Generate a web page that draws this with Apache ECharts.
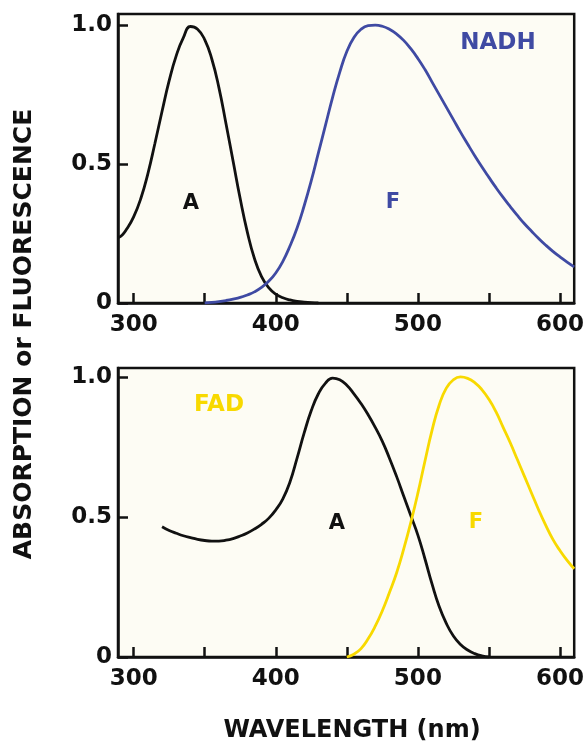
<!DOCTYPE html>
<html>
<head>
<meta charset="utf-8">
<script src="https://cdn.jsdelivr.net/npm/echarts@6/dist/echarts.min.js"></script>
<style>
html,body{margin:0;padding:0;background:#ffffff;}
#chart{width:587px;height:742px;}
</style>
</head>
<body>
<div id="chart"></div>
<script>
// ---- data (wavelength nm, normalised intensity) ----
const nadhAbsWl  = [289,292,295,300,305,310,315,320,325,330,335,340,345,350,355,360,365,370,375,380,385,390,395,400,405,410,415,420,425,430];
const nadhAbsVal = [0.235,0.245,0.265,0.31,0.375,0.465,0.575,0.69,0.80,0.89,0.955,0.995,0.985,0.948,0.878,0.775,0.645,0.51,0.375,0.255,0.16,0.095,0.055,0.032,0.019,0.011,0.006,0.003,0.001,0];

const nadhFluWl  = [350,355,360,365,370,375,380,385,390,395,400,405,410,415,420,425,430,435,440,445,450,455,460,465,470,475,480,485,490,495,500,505,510,515,520,525,530,535,540,545,550,555,560,565,570,575,580,585,590,595,600,605,610];
const nadhFluVal = [0,0.002,0.005,0.009,0.014,0.02,0.029,0.04,0.056,0.078,0.108,0.15,0.205,0.27,0.35,0.44,0.54,0.64,0.74,0.83,0.905,0.955,0.985,0.998,1.0,0.996,0.985,0.968,0.945,0.915,0.88,0.84,0.795,0.75,0.705,0.66,0.615,0.572,0.53,0.49,0.452,0.415,0.38,0.347,0.315,0.285,0.258,0.232,0.208,0.186,0.166,0.147,0.13];

const fadAbsWl  = [320,325,330,335,340,345,350,355,360,365,370,375,380,385,390,395,400,405,410,415,420,425,430,435,440,445,450,455,460,465,470,475,480,485,490,495,500,505,510,515,520,525,530,535,540,545,550];
const fadAbsVal = [0.465,0.452,0.442,0.433,0.426,0.42,0.416,0.414,0.414,0.417,0.423,0.432,0.443,0.457,0.474,0.495,0.525,0.565,0.625,0.71,0.80,0.88,0.94,0.978,0.996,0.99,0.97,0.94,0.905,0.865,0.82,0.77,0.71,0.645,0.575,0.505,0.435,0.35,0.26,0.18,0.12,0.075,0.045,0.025,0.012,0.004,0];

const fadFluWl  = [450,455,460,465,470,475,480,485,490,495,500,505,510,515,520,525,530,535,540,545,550,555,560,565,570,575,580,585,590,595,600,605,610];
const fadFluVal = [0,0.01,0.03,0.065,0.11,0.165,0.23,0.30,0.385,0.48,0.585,0.70,0.81,0.90,0.96,0.99,1.0,0.995,0.98,0.955,0.92,0.875,0.82,0.765,0.705,0.645,0.585,0.525,0.47,0.42,0.38,0.345,0.315];

const xTicks  = [300,350,400,450,500,550,600];
const xLabels = [300,400,500,600];
const yTicks  = [0,0.5,1.0];
const yLabels = ['0','0.5','1.0'];

const axisTitleX = 'WAVELENGTH (nm)';
const axisTitleY = 'ABSORPTION or FLUORESCENCE';

// ---- styling ----
const FONT = '"DejaVu Sans", sans-serif';
const INK = '#111111';
const BLUE = '#3f4aa3';
const YELLOW = '#f8d900';
const PLOT_BG = '#fdfcf4';

function zip(a, b) { return a.map((v, i) => [v, b[i]]); }

function xAxisCfg(gridIndex) {
  return {
    type: 'value', gridIndex: gridIndex, min: 289, max: 610,
    axisLine: { show: true, onZero: false, lineStyle: { color: INK, width: 2.5 } },
    axisTick: { show: true, inside: true, length: 10, customValues: xTicks, lineStyle: { color: INK, width: 2.5 } },
    axisLabel: { show: true, customValues: xLabels, margin: 11, color: INK, fontFamily: FONT, fontWeight: 'bold', fontSize: 23 },
    splitLine: { show: false }
  };
}
function yAxisCfg(gridIndex, max) {
  return {
    type: 'value', gridIndex: gridIndex, min: 0, max: max,
    axisLine: { show: true, onZero: false, lineStyle: { color: INK, width: 2.5 } },
    axisTick: { show: true, inside: true, length: 10, customValues: yTicks, lineStyle: { color: INK, width: 2.5 } },
    axisLabel: { show: true, customValues: yTicks, margin: 6, color: INK, fontFamily: FONT, fontWeight: 'bold', fontSize: 23,
      formatter: function (v) { const i = yTicks.indexOf(v); return i >= 0 ? yLabels[i] : ''; } },
    splitLine: { show: false }
  };
}
function lineSeries(name, xi, yi, wl, val, color) {
  return {
    name: name, type: 'line', xAxisIndex: xi, yAxisIndex: yi,
    data: zip(wl, val), smooth: 0.5, showSymbol: false, symbol: 'none',
    lineStyle: { color: color, width: 2.8 }, clip: true, silent: true, animation: false
  };
}

const chart = echarts.init(document.getElementById('chart'), null, { renderer: 'canvas' });
chart.setOption({
  backgroundColor: '#ffffff',
  animation: false,
  grid: [
    { left: 118, top: 14, right: 9, height: 289, show: true, backgroundColor: PLOT_BG, borderColor: INK, borderWidth: 2.5 },
    { left: 118, top: 368, right: 9, height: 289, show: true, backgroundColor: PLOT_BG, borderColor: INK, borderWidth: 2.5 }
  ],
  xAxis: [xAxisCfg(0), xAxisCfg(1)],
  yAxis: [yAxisCfg(0, 1.04), yAxisCfg(1, 1.032)],
  series: [
    lineSeries('NADH A', 0, 0, nadhAbsWl, nadhAbsVal, INK),
    lineSeries('NADH F', 0, 0, nadhFluWl, nadhFluVal, BLUE),
    lineSeries('FAD A', 1, 1, fadAbsWl, fadAbsVal, INK),
    lineSeries('FAD F', 1, 1, fadFluWl, fadFluVal, YELLOW)
  ],
  graphic: [
    { type: 'text', x: 24, y: 334, rotation: Math.PI / 2,
      style: { text: axisTitleY, fill: INK, font: 'bold 25px ' + FONT, align: 'center', verticalAlign: 'middle' } },
    { type: 'text', x: 352, y: 731,
      style: { text: axisTitleX, fill: INK, font: 'bold 24px ' + FONT, align: 'center', verticalAlign: 'middle' } },
    { type: 'text', x: 191, y: 204, style: { text: 'A', fill: INK, font: 'bold 21px ' + FONT, align: 'center', verticalAlign: 'middle' } },
    { type: 'text', x: 393, y: 203, style: { text: 'F', fill: BLUE, font: 'bold 21px ' + FONT, align: 'center', verticalAlign: 'middle' } },
    { type: 'text', x: 498, y: 43, style: { text: 'NADH', fill: BLUE, font: 'bold 23px ' + FONT, align: 'center', verticalAlign: 'middle' } },
    { type: 'text', x: 219, y: 405, style: { text: 'FAD', fill: YELLOW, font: 'bold 23px ' + FONT, align: 'center', verticalAlign: 'middle' } },
    { type: 'text', x: 337, y: 524, style: { text: 'A', fill: INK, font: 'bold 21px ' + FONT, align: 'center', verticalAlign: 'middle' } },
    { type: 'text', x: 476, y: 523, style: { text: 'F', fill: YELLOW, font: 'bold 21px ' + FONT, align: 'center', verticalAlign: 'middle' } }
  ]
});
</script>
</body>
</html>
